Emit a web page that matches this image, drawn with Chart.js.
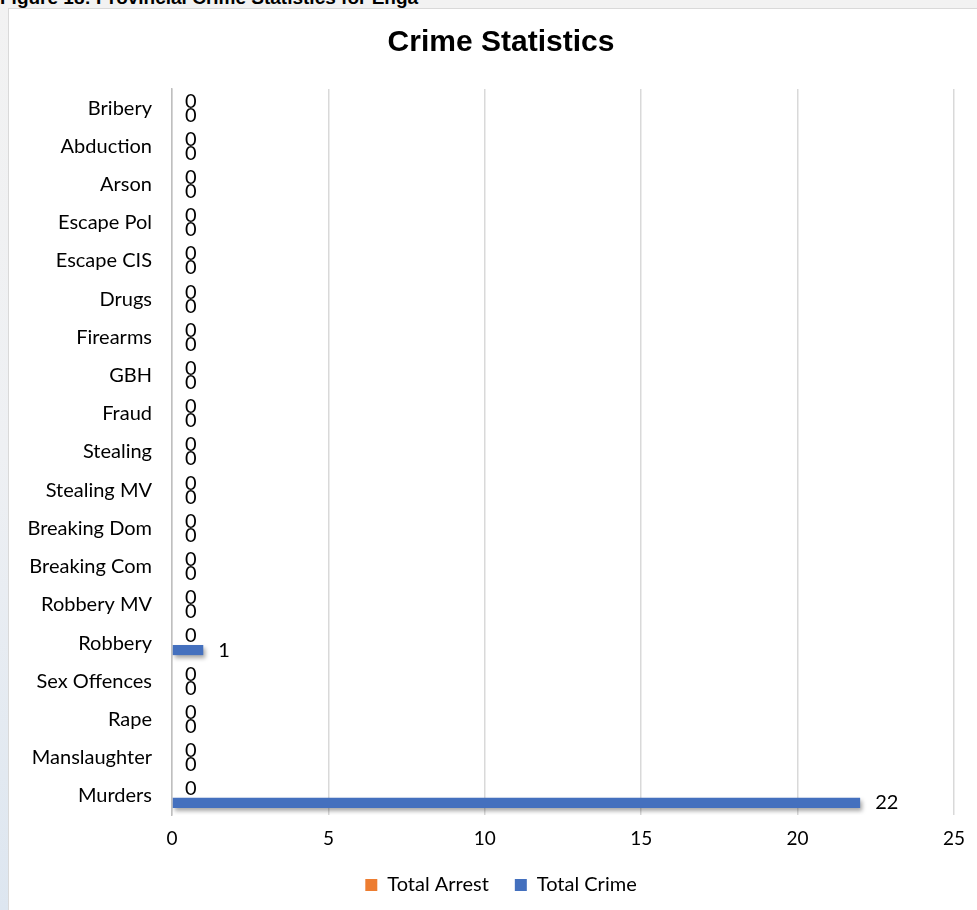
<!DOCTYPE html>
<html>
<head>
<meta charset="utf-8">
<script src="https://cdn.jsdelivr.net/npm/chart.js@4.4.1/dist/chart.umd.min.js"></script>
<style>
  html, body { margin:0; padding:0; }
  body { width:977px; height:910px; overflow:hidden; position:relative;
         background: linear-gradient(180deg, #f2f2f2 0%, #eef0f3 50%, #dde6f0 100%); }
  #heading { position:absolute; left:0; top:-13px; font: bold 19px 'Liberation Sans', Arial, sans-serif; color:#000; white-space:nowrap; }
  #box { position:absolute; left:8px; top:8px; width:975px; height:920px; background:#fff; border:1px solid #d9d9d9; }
  canvas { position:absolute; left:0; top:0; }
</style>
</head>
<body>
<div id="heading">Figure 18: Provincial Crime Statistics for Enga</div>
<div id="box"><canvas id="c" width="968" height="896"></canvas></div>
<script>
const categories = ["Bribery","Abduction","Arson","Escape Pol","Escape CIS","Drugs","Firearms","GBH","Fraud","Stealing","Stealing MV","Breaking Dom","Breaking Com","Robbery MV","Robbery","Sex Offences","Rape","Manslaughter","Murders"];
const totalArrest = [0,0,0,0,0,0,0,0,0,0,0,0,0,0,0,0,0,0,0];
const totalCrime  = [0,0,0,0,0,0,0,0,0,0,0,0,0,0,1,0,0,0,22];
const xTicks = [0,5,10,15,20,25];

const FONT = "Lato, 'Open Sans', sans-serif";

const labelPlugin = {
  id: 'labels',
  beforeDatasetsDraw(chart) {
    const ctx = chart.ctx;
    ctx.save();
    ctx.shadowColor = 'rgba(0,0,0,0.35)';
    ctx.shadowBlur = 4;
    ctx.shadowOffsetX = 2;
    ctx.shadowOffsetY = 3;
  },
  afterDatasetsDraw(chart) {
    const ctx = chart.ctx;
    ctx.restore();
    ctx.save();
    ctx.font = "20px " + FONT;
    ctx.fillStyle = '#000';
    ctx.textAlign = 'left';
    ctx.textBaseline = 'middle';
    chart.data.datasets.forEach((ds, di) => {
      const meta = chart.getDatasetMeta(di);
      meta.data.forEach((el, i) => {
        const v = ds.data[i];
        ctx.fillText(String(v), el.x + (v === 0 ? 13 : 15), el.y);
      });
    });
    ctx.restore();
  }
};

const noClip = () => undefined;

new Chart(document.getElementById('c'), {
  type: 'bar',
  data: {
    labels: categories,
    datasets: [
      { label: 'Total Arrest', data: totalArrest, backgroundColor: '#ED7D31', categoryPercentage: 0.735, barPercentage: 0.72 },
      { label: 'Total Crime', data: totalCrime, backgroundColor: '#4470BE', categoryPercentage: 0.735, barPercentage: 0.72 }
    ]
  },
  options: {
    indexAxis: 'y',
    responsive: false,
    animation: false,
    layout: { padding: { left: 36, right: 20, top: 0, bottom: 0 } },
    plugins: {
      title: {
        display: true, text: 'Crime Statistics', color: '#000',
        font: { family: "'Liberation Sans Narrow', 'Liberation Sans', sans-serif", size: 30, weight: 'bold' },
        padding: { top: 16, bottom: 28 }
      },
      legend: {
        position: 'bottom',
        labels: { boxWidth: 12, boxHeight: 12, padding: 26, color: '#000', font: { family: FONT, size: 20 } }
      },
      tooltip: { enabled: false }
    },
    scales: {
      x: {
        min: 0, max: 25,
        afterBuildTicks(s) { s.ticks = xTicks.map(v => ({ value: v })); },
        grid: { color: '#d9d9d9', lineWidth: 1.5, drawTicks: false },
        border: { display: false },
        ticks: { color: '#000', padding: 12, font: { family: FONT, size: 19 } },
        afterFit(s) { s.height = 34; s._computeLabelArea = noClip; }
      },
      y: {
        grid: { display: false, drawTicks: false },
        border: { display: true, color: '#bfbfbf', width: 1.5 },
        ticks: { color: '#000', padding: 20, font: { family: FONT, size: 20 } },
        afterFit(s) { s.width = 127; s._computeLabelArea = noClip; }
      }
    }
  },
  plugins: [labelPlugin]
});
</script>
</body>
</html>
